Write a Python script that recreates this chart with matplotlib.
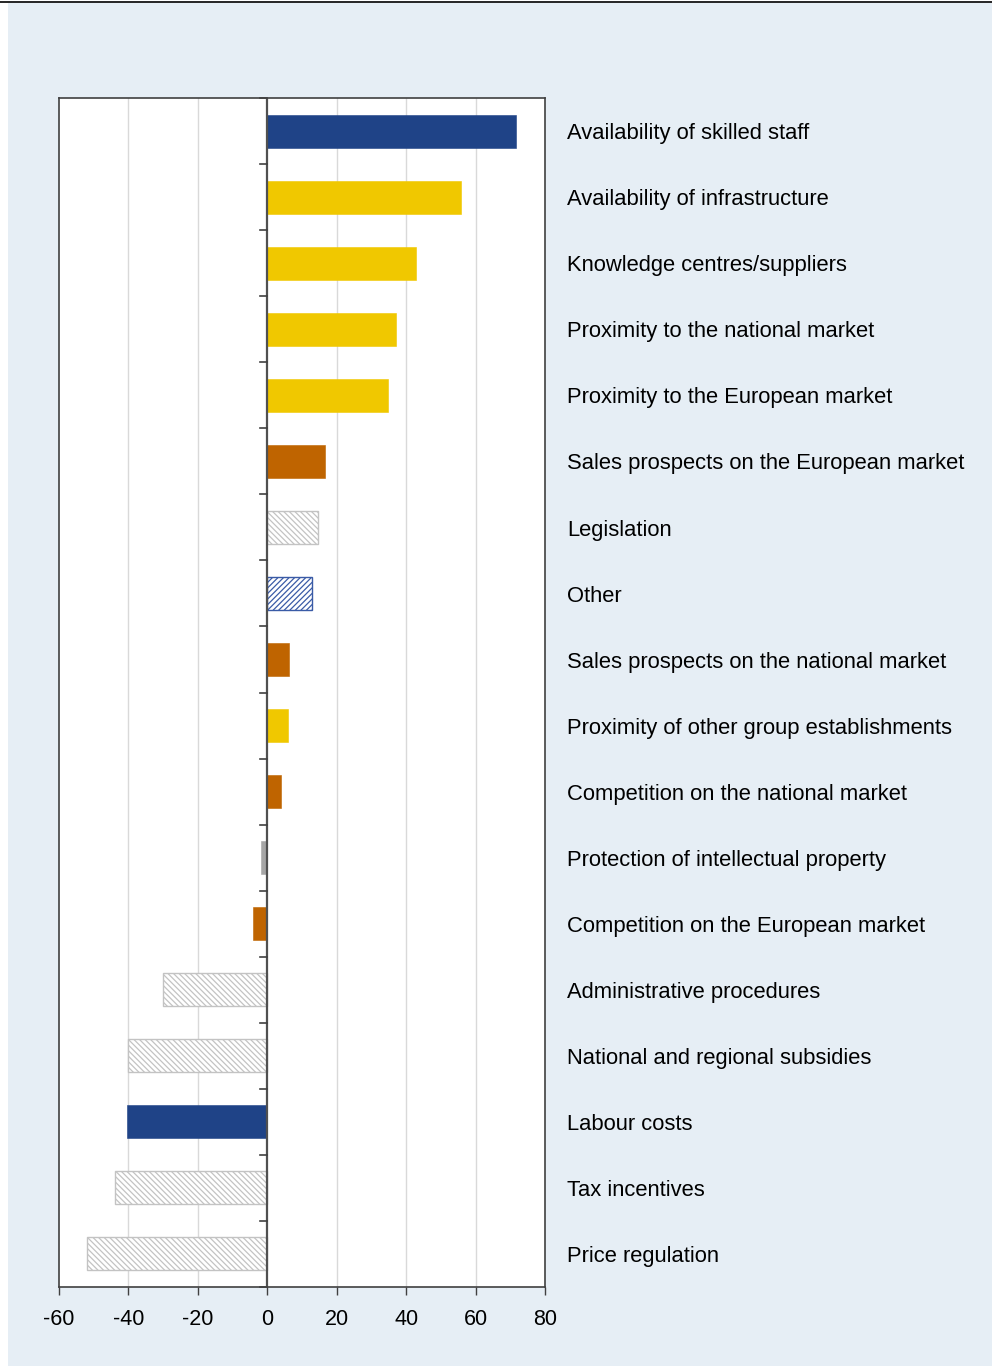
import matplotlib
matplotlib.use("Agg")
import matplotlib.pyplot as plt
from matplotlib.patches import Rectangle
from matplotlib.lines import Line2D
import numpy as np

plt.rcParams['font.family'] = ['Liberation Sans', 'DejaVu Sans']
plt.rcParams['hatch.linewidth'] = 0.9

categories = [
    "Availability of skilled staff",
    "Availability of infrastructure",
    "Knowledge centres/suppliers",
    "Proximity to the national market",
    "Proximity to the European market",
    "Sales prospects on the European market",
    "Legislation",
    "Other",
    "Sales prospects on the national market",
    "Proximity of other group establishments",
    "Competition on the national market",
    "Protection of intellectual property",
    "Competition on the European market",
    "Administrative procedures",
    "National and regional subsidies",
    "Labour costs",
    "Tax incentives",
    "Price regulation",
]
values = [71.6, 55.7, 42.8, 37, 34.7, 16.7, 14.5, 12.8, 6.3, 6, 4, -1.7, -4, -30, -40, -40.3, -44, -52]
# factor group for each item
groups = ["labour", "location", "location", "location", "location", "market",
          "govt", "other", "market", "location", "market", "ip", "market",
          "govt", "govt", "labour", "govt", "govt"]

x_ticks = [-60, -40, -20, 0, 20, 40, 60, 80]

styles = {
    "labour":   dict(facecolor="#1F4387", edgecolor="#1F4387", hatch=None, lw=0.4),
    "location": dict(facecolor="#F0C800", edgecolor="#F0C800", hatch=None, lw=0.4),
    "market":   dict(facecolor="#BF6400", edgecolor="#BF6400", hatch=None, lw=0.4),
    "ip":       dict(facecolor="#A6A6A6", edgecolor="#A6A6A6", hatch=None, lw=0.4),
    "govt":     dict(facecolor="white", edgecolor="#C3C3C3", hatch="\\" * 6, lw=1.0),
    "other":    dict(facecolor="white", edgecolor="#3A5BA6", hatch="/" * 6, lw=1.0),
}

W, H = 992, 1369
fig = plt.figure(figsize=(W / 100, H / 100), dpi=100, facecolor="white")

# light blue panel and top rule
fig.patches.append(Rectangle((8 / W, 3 / H), (W - 8) / W, (H - 6) / H,
                             transform=fig.transFigure, facecolor="#E6EEF5",
                             edgecolor="none", zorder=-10))
fig.lines.append(Line2D([0, 1], [1 - 1.5 / H, 1 - 1.5 / H], transform=fig.transFigure,
                        color="black", lw=1.2, zorder=-5))

ax = fig.add_axes([59 / W, 82 / H, 486 / W, 1189 / H])
ax.set_zorder(5)
ax.set_facecolor("white")

y = np.arange(len(categories))
for yi, v, g in zip(y, values, groups):
    st = styles[g]
    ax.barh(yi, v, height=0.5, facecolor=st["facecolor"], edgecolor=st["edgecolor"],
            hatch=st["hatch"], linewidth=st["lw"], zorder=3)

ax.set_xlim(-60, 80)
ax.set_ylim(len(categories) - 0.5, -0.5)
ax.set_xticks(x_ticks)
ax.set_xticklabels([str(t) for t in x_ticks], fontsize=15.5)
ax.tick_params(axis="x", direction="out", length=6, width=1, color="#404040", pad=10)

for t in x_ticks:
    if t not in (-60, 0, 80):
        ax.axvline(t, color="#D9D9D9", lw=1, zorder=1)

# zero axis with category boundary ticks
ax.axvline(0, color="#505050", lw=1.6, zorder=4)
for b in np.arange(-0.5, len(categories), 1.0):
    ax.plot([-2.0, 0], [b, b], color="#404040", lw=1.2, zorder=4, clip_on=False)

ax.set_yticks([])
for s in ax.spines.values():
    s.set_color("#404040")
    s.set_linewidth(1.2)

for yi, name in zip(y, categories):
    ax.text(1.045, yi + 0.04, name, transform=ax.get_yaxis_transform(), fontsize=15.8,
            va="center", ha="left", color="black")

fig.savefig("out.png", dpi=100, facecolor=fig.get_facecolor())
